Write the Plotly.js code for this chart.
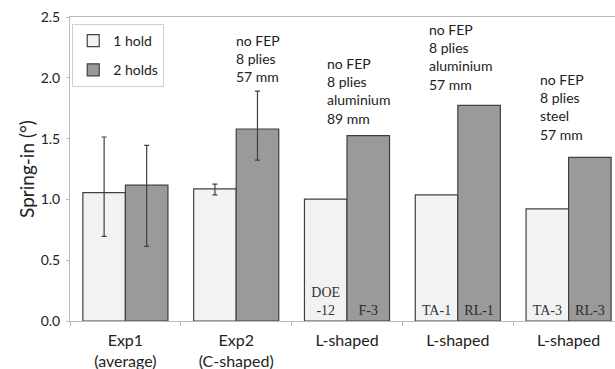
<!DOCTYPE html>
<html><head><meta charset="utf-8">
<script src="https://cdn.plot.ly/plotly-3.0.1.min.js"></script>
<style>html,body{margin:0;padding:0;overflow:hidden;background:#fff;width:615px;height:369px}</style>
</head><body><div id="chart"></div>
<script>
var categories = ['Exp1', 'Exp2', 'L1', 'L2', 'L3'];
var tickLabels = ['Exp1<br>(average)', 'Exp2<br>(C-shaped)', 'L-shaped', 'L-shaped', 'L-shaped'];
var hold1 = [1.055, 1.087, 1.002, 1.037, 0.922];
var hold2 = [1.117, 1.579, 1.524, 1.774, 1.345];
var hold1ErrPlus = [0.458, 0.038];
var hold1ErrMinus = [0.359, 0.05];
var hold2ErrPlus = [0.327, 0.311];
var hold2ErrMinus = [0.503, 0.256];
var hold1Labels = ['', '', 'DOE<br>-12', 'TA-1', 'TA-3'];
var hold2Labels = ['', '', 'F-3', 'RL-1', 'RL-3'];
var noteCats = [1, 2, 3, 4];
var noteTexts = ['no FEP<br>8 plies<br>57 mm', 'no FEP<br>8 plies<br>aluminium<br>89 mm', 'no FEP<br>8 plies<br>aluminium<br>57 mm', 'no FEP<br>8 plies<br>steel<br>57 mm'];
var noteOffsets = [-0.02, -0.2, -0.28, -0.28];
var noteBottoms = [1.925, 1.575, 1.855, 1.445];

var font = 'Lato, "Liberation Sans", sans-serif';
var serif = '"Liberation Serif", "DejaVu Serif", serif';
var barLine = {color: '#404040', width: 1.2};

var traces = [
  {type: 'bar', name: '1 hold', x: categories, y: hold1, legendgroup: 'a',
   marker: {color: '#f2f2f2', line: barLine},
   error_y: {type: 'data', symmetric: false, array: hold1ErrPlus, arrayminus: hold1ErrMinus, color: '#404040', thickness: 1.2, width: 2.5},
   text: hold1Labels, textposition: 'inside', insidetextanchor: 'start', textangle: 0,
   textfont: {family: serif, size: 14, color: '#333'},
   hoverinfo: 'skip'},
  {type: 'bar', name: '2 holds', x: categories, y: hold2, legendgroup: 'b',
   marker: {color: '#9a9a9a', line: barLine},
   error_y: {type: 'data', symmetric: false, array: hold2ErrPlus, arrayminus: hold2ErrMinus, color: '#404040', thickness: 1.2, width: 2.5},
   text: hold2Labels, textposition: 'inside', insidetextanchor: 'start', textangle: 0,
   textfont: {family: serif, size: 14, color: '#2a2a2a'},
   hoverinfo: 'skip'}
];

var annotations = noteCats.map(function(c, i){
  return {x: c + noteOffsets[i], y: noteBottoms[i], xref: 'x', yref: 'y',
    text: noteTexts[i], showarrow: false, xanchor: 'left', yanchor: 'bottom', align: 'left',
    font: {family: font, size: 14, color: '#222'}};
});

var layout = {
  width: 630, height: 369,
  margin: {l: 70, r: 6, t: 17, b: 48},
  paper_bgcolor: '#fff', plot_bgcolor: '#fff',
  barmode: 'group', bargap: 0.232, bargroupgap: 0,
  font: {family: font, size: 14, color: '#333'},
  showlegend: true,
  legend: {x: 0.004, y: 0.977, xanchor: 'left', yanchor: 'top', bgcolor: '#fff',
    bordercolor: '#cfcfcf', borderwidth: 1, traceorder: 'grouped', tracegroupgap: 8,
    font: {family: font, size: 14, color: '#222'}},
  xaxis: {type: 'category', tickmode: 'array', tickvals: categories, ticktext: tickLabels,
    tickson: 'boundaries', ticks: 'outside', ticklen: 4, tickcolor: '#bbb', ticklabelstandoff: 5,
    showline: true, linecolor: '#bbb', linewidth: 1, mirror: true, showgrid: false,
    tickfont: {family: font, size: 16, color: '#222'}},
  yaxis: {range: [0, 2.5], tickvals: [0, 0.5, 1, 1.5, 2, 2.5], tickformat: '.1f',
    ticks: 'outside', ticklen: 3, tickcolor: '#bbb', ticklabelstandoff: 3,
    showline: true, linecolor: '#bbb', linewidth: 1, mirror: true, showgrid: false, zeroline: false,
    tickfont: {family: font, size: 14, color: '#222'},
    title: {text: 'Spring-in (°)', font: {family: font, size: 19, color: '#222'}, standoff: 1}},
  annotations: annotations
};

Plotly.newPlot('chart', traces, layout, {displayModeBar: false, staticPlot: true});
</script></body></html>
